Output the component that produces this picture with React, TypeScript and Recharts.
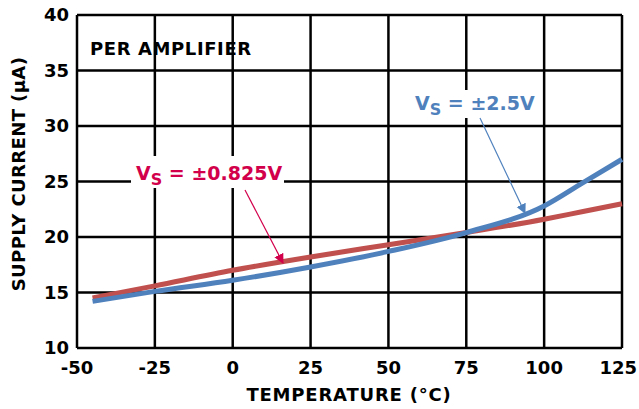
import { LineChart, Line, XAxis, YAxis, CartesianGrid } from 'recharts';

const temps = [-45, -25, 0, 25, 50, 75, 100, 112.5, 125];
const supplyLow = [14.5, 15.6, 17.0, 18.2, 19.3, 20.4, 21.6, 22.3, 23.0];
const supplyHigh = [14.2, 15.1, 16.1, 17.3, 18.7, 20.4, 22.8, 24.9, 27.0];
const xTicks = [-50, -25, 0, 25, 50, 75, 100, 125];
const yTicks = [10, 15, 20, 25, 30, 35, 40];

const data = temps.map((t, i) => ({ temp: t, low: supplyLow[i], high: supplyHigh[i] }));

const font = '"DejaVu Sans", Verdana, sans-serif';
const red = '#c0504d';
const blue = '#4f81bd';
const crimson = '#d2004b';

// last tick sits at the right edge, so keep it inside the picture
const XTick = ({ x, y, payload }: any) => {
    const last = payload.value === xTicks[xTicks.length - 1];
    return (
        <text
            x={last ? Math.min(x + 18, 637) : x}
            y={y}
            dy="0.71em"
            textAnchor={last ? 'end' : 'middle'}
            fontSize={18}
            fontWeight="bold"
            fontFamily={font}
            fill="#000"
        >
            {payload.value}
        </text>
    );
};

export default function App() {
    return (
        <div style={{ position: 'absolute', left: 0, top: 0, width: 639, height: 409, background: '#fff' }}>
            <LineChart width={639} height={409} data={data} margin={{ top: 15, right: 17, left: 0, bottom: 0 }}>
                <CartesianGrid stroke="#000" strokeWidth={2.5} strokeOpacity={1} />
                <XAxis
                    dataKey="temp"
                    type="number"
                    domain={[-50, 125]}
                    ticks={xTicks}
                    axisLine={false}
                    tickLine={false}
                    height={61}
                    tickMargin={7}
                    tick={<XTick />}
                />
                <YAxis
                    type="number"
                    domain={[10, 40]}
                    ticks={yTicks}
                    axisLine={false}
                    tickLine={false}
                    width={77}
                    tickMargin={2}
                    tick={{ fontSize: 18, fontWeight: 'bold', fill: '#000', fontFamily: font }}
                />
                <Line type="monotone" dataKey="low" stroke={red} strokeWidth={5} dot={false} isAnimationActive={false} />
                <Line type="monotone" dataKey="high" stroke={blue} strokeWidth={5} dot={false} isAnimationActive={false} />
            </LineChart>
            <svg width={639} height={409} style={{ position: 'absolute', left: 0, top: 0, pointerEvents: 'none' }}>
                <defs>
                    <marker id="arrRed" markerWidth="10" markerHeight="14" refX="9" refY="7" orient="auto" markerUnits="userSpaceOnUse">
                        <path d="M0,2 L10,7 L0,12 Z" fill={crimson} />
                    </marker>
                    <marker id="arrBlue" markerWidth="10" markerHeight="14" refX="9" refY="7" orient="auto" markerUnits="userSpaceOnUse">
                        <path d="M0,2 L10,7 L0,12 Z" fill={blue} />
                    </marker>
                </defs>
                <text x={90} y={55} fontFamily={font} fontWeight="bold" fontSize={18} letterSpacing={0.6} fill="#000">
                    PER AMPLIFIER
                </text>
                <text
                    transform="translate(25,174) rotate(-90)"
                    textAnchor="middle"
                    fontFamily={font}
                    fontWeight="bold"
                    fontSize={18}
                    letterSpacing={0.4}
                    fill="#000"
                >
                    SUPPLY CURRENT (µA)
                </text>
                <text x={349} y={401} textAnchor="middle" fontFamily={font} fontWeight="bold" fontSize={18} letterSpacing={0.8} fill="#000">
                    TEMPERATURE (°C)
                </text>

                <rect x={131} y={156} width={153} height={32} fill="#fff" />
                <text x={136} y={180} fontFamily={font} fontWeight="bold" fontSize={19} fill={crimson}>
                    V<tspan fontSize={16} dy={5}>S</tspan>
                    <tspan dy={-5}> = ±0.825V</tspan>
                </text>
                <line x1={245} y1={190} x2={283} y2={263} stroke={crimson} strokeWidth={1.2} markerEnd="url(#arrRed)" />

                <rect x={413} y={90} width={122} height={28} fill="#fff" />
                <text x={415} y={110} fontFamily={font} fontWeight="bold" fontSize={19} fill={blue}>
                    V<tspan fontSize={16} dy={5}>S</tspan>
                    <tspan dy={-5}> = ±2.5V</tspan>
                </text>
                <line x1={480} y1={118} x2={525} y2={213} stroke={blue} strokeWidth={1.2} markerEnd="url(#arrBlue)" />
            </svg>
        </div>
    );
}
